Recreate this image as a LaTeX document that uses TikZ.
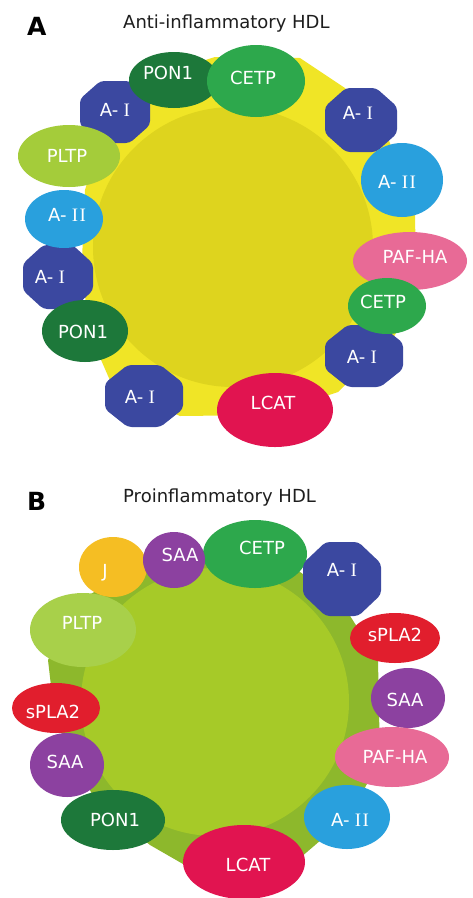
\documentclass[tikz,border=0pt]{standalone}
\usepackage{fontspec}
\setmainfont{DejaVu Sans}
\newfontfamily\romfont{Liberation Serif}
\usetikzlibrary{shapes.geometric}
\definecolor{aoneblue}{RGB}{59,72,160}
\definecolor{atwoblue}{RGB}{41,160,221}
\definecolor{ponggreen}{RGB}{29,120,58}
\definecolor{cetpgreen}{RGB}{45,168,76}
\definecolor{pltpgreen}{RGB}{164,204,58}
\definecolor{pltpgreenb}{RGB}{168,208,74}
\definecolor{pafpink}{RGB}{232,106,150}
\definecolor{lcatred}{RGB}{225,20,80}
\definecolor{splared}{RGB}{225,30,45}
\definecolor{saapurple}{RGB}{140,65,160}
\definecolor{jyellow}{RGB}{245,190,35}
\definecolor{ayellowout}{RGB}{240,229,38}
\definecolor{ayellowin}{RGB}{222,212,30}
\definecolor{blimein}{RGB}{166,202,40}
\definecolor{blimeout}{RGB}{141,184,44}
\definecolor{titlegray}{RGB}{30,30,30}
\tikzset{
  blob/.style={ellipse, draw=none, inner sep=0pt, outer sep=0pt},
  lbl/.style={text=white, inner sep=0pt, font=\fontsize{18}{18}\selectfont},
  ttl/.style={text=titlegray, inner sep=0pt, anchor=base west, font=\fontsize{18}{18}\selectfont},
  panellbl/.style={text=black, inner sep=0pt, anchor=base west, font=\bfseries\fontsize{25}{25}\selectfont},
}
\newcommand\rI{{\romfont\fontsize{19}{19}\selectfont I}}
\newcommand\rII{{\romfont\fontsize{19}{19}\selectfont I\kern1.2pt I}}
% rounded octagon: x, y, rx, ry, colour
\newcommand\hdloct[5]{\fill[#5,rounded corners=4pt]
  ({#1-#3},{#2-0.42*#4}) -- ({#1-0.42*#3},{#2-#4}) -- ({#1+0.42*#3},{#2-#4}) --
  ({#1+#3},{#2-0.42*#4}) -- ({#1+#3},{#2+0.42*#4}) -- ({#1+0.42*#3},{#2+#4}) --
  ({#1-0.42*#3},{#2+#4}) -- ({#1-#3},{#2+0.42*#4}) -- cycle;}
\begin{document}
\begin{tikzpicture}[x=1pt,y=-1pt]
\useasboundingbox (0,0) rectangle (472,898);
\fill[white] (0,0) rectangle (472,898);

% ================= Panel A =================
\node[panellbl] (labA) at (27,35) {A};
\node[ttl] (titA) at (123,28.5) {Anti-inflammatory HDL};

\fill[ayellowout] (215,57) -- (300,58) -- (345,88) -- (385,130) -- (415,210) -- (416,287)
  -- (395,335) -- (338,392) -- (270,415) -- (180,416) -- (112,385) -- (88,330) -- (82,260)
  -- (85,190) -- (100,140) -- (140,95) -- (180,68) -- cycle;
\fill[ayellowin] (233,247) circle (140pt);

\hdloct{115}{112}{35}{31}{aoneblue}
\node[blob,fill=ponggreen,minimum width=90pt,minimum height=56pt] (bPonA1) at (174,80) {};
\node[blob,fill=cetpgreen,minimum width=98pt,minimum height=72pt] (bCetpA1) at (256,81) {};
\node[blob,fill=pltpgreen,minimum width=102pt,minimum height=62pt] (bPltpA) at (69,156) {};
\hdloct{58}{277}{35}{32}{aoneblue}
\node[blob,fill=atwoblue,minimum width=78pt,minimum height=58pt] (bAtwoA1) at (64,219) {};
\node[blob,fill=ponggreen,minimum width=86pt,minimum height=62pt] (bPonA2) at (85,331) {};
\hdloct{144}{396}{39}{31}{aoneblue}
\node[blob,fill=lcatred,minimum width=116pt,minimum height=74pt] (bLcatA) at (275,410) {};
\hdloct{364}{356}{39}{31}{aoneblue}
\node[blob,fill=pafpink,minimum width=114pt,minimum height=58pt] (bPafA) at (410,261) {};
\node[blob,fill=cetpgreen,minimum width=78pt,minimum height=56pt] (bCetpA2) at (387,306) {};
\hdloct{361}{120}{36}{32}{aoneblue}
\node[blob,fill=atwoblue,minimum width=82pt,minimum height=74pt] (bAtwoA2) at (402,180) {};

\node[lbl] (tPonA1) at (168,73) {PON1};
\node[lbl] (tCetpA1) at (253,78) {CETP};
\node[lbl] (tAoneA1) at (115,110) {A-\hspace{0.3em}\rI};
\node[lbl] (tPltpA) at (67,156) {PLTP};
\node[lbl] (tAtwoA1) at (67,215) {A-\hspace{0.3em}\rII};
\node[lbl] (tAoneA2) at (50,277) {A-\hspace{0.3em}\rI};
\node[lbl] (tPonA2) at (83,332) {PON1};
\node[lbl] (tAoneA3) at (140,397) {A-\hspace{0.3em}\rI};
\node[lbl] (tLcatA) at (273,403) {LCAT};
\node[lbl] (tAoneA4) at (362,357) {A-\hspace{0.3em}\rI};
\node[lbl] (tCetpA2) at (383,302) {CETP};
\node[lbl] (tPafA) at (415,257) {PAF-HA};
\node[lbl] (tAtwoA2) at (397,182) {A-\hspace{0.3em}\rII};
\node[lbl] (tAoneA5) at (358,113) {A-\hspace{0.3em}\rI};

% ================= Panel B =================
\node[panellbl] (labB) at (27,510) {B};
\node[ttl] (titB) at (123,502) {Proinflammatory HDL};

\fill[blimeout] (185,562) -- (290,565) -- (340,600) -- (378,660) -- (380,760) -- (350,815)
  -- (300,858) -- (190,868) -- (150,845) -- (95,800) -- (55,720) -- (48,660) -- (80,600)
  -- (130,572) -- cycle;
\fill[blimein] (215,702) circle (134pt);

\node[blob,fill=pltpgreenb,minimum width=106pt,minimum height=74pt] (bPltpB) at (83,630) {};
\node[blob,fill=jyellow,minimum width=68pt,minimum height=60pt] (bJB) at (113,567) {};
\node[blob,fill=cetpgreen,minimum width=104pt,minimum height=68pt] (bCetpB) at (255,554) {};
\node[blob,fill=saapurple,minimum width=62pt,minimum height=56pt] (bSaaB1) at (174,560) {};
\hdloct{342}{579}{39}{37}{aoneblue}
\node[blob,fill=splared,minimum width=90pt,minimum height=50pt] (bSplaB1) at (395,638) {};
\node[blob,fill=saapurple,minimum width=74pt,minimum height=60pt] (bSaaB2) at (408,698) {};
\node[blob,fill=pafpink,minimum width=114pt,minimum height=60pt] (bPafB) at (392,757) {};
\node[blob,fill=atwoblue,minimum width=86pt,minimum height=64pt] (bAtwoB) at (347,817) {};
\node[blob,fill=lcatred,minimum width=122pt,minimum height=74pt] (bLcatB) at (244,862) {};
\node[blob,fill=ponggreen,minimum width=104pt,minimum height=60pt] (bPonB) at (113,820) {};
\node[blob,fill=saapurple,minimum width=74pt,minimum height=64pt] (bSaaB3) at (67,765) {};
\node[blob,fill=splared,minimum width=88pt,minimum height=50pt] (bSplaB2) at (56,708) {};

\node[lbl] (tPltpB) at (82,623) {PLTP};
\node[lbl] (tJB) at (105,573) {J};
\node[lbl] (tSaaB1) at (180,555) {SAA};
\node[lbl] (tCetpB) at (262,548) {CETP};
\node[lbl] (tAoneB) at (342,570) {A-\hspace{0.3em}\rI};
\node[lbl] (tSplaB1) at (395,635) {sPLA2};
\node[lbl] (tSaaB2) at (405,700) {SAA};
\node[lbl] (tPafB) at (395,757) {PAF-HA};
\node[lbl] (tAtwoB) at (350,820) {A-\hspace{0.3em}\rII};
\node[lbl] (tLcatB) at (248,865) {LCAT};
\node[lbl] (tPonB) at (115,820) {PON1};
\node[lbl] (tSaaB3) at (65,762) {SAA};
\node[lbl] (tSplaB2) at (53,712) {sPLA2};
\end{tikzpicture}
\end{document}
